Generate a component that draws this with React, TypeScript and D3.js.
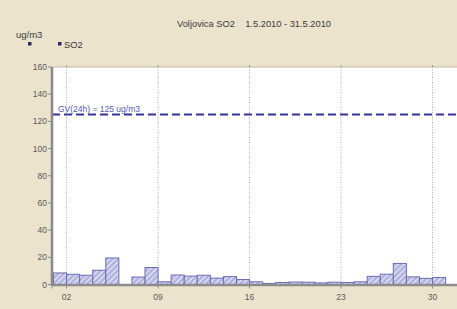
import * as d3 from 'd3';

// daily SO2 means, May 2010 (null = no data)
const days = d3.range(1, 32);
const so2: (number | null)[] = [
  8.5, 7.5, 6.8, 10.5, 19.5, null, 5.5, 12.5, 2, 7,
  6.2, 6.8, 4.7, 5.8, 3.7, 2, 0.8, 1.5, 1.8, 1.7,
  1.2, 1.7, 1.5, 2, 6, 7.6, 15.5, 5.6, 4.5, 5.2, null,
];
const yTicks = [0, 20, 40, 60, 80, 100, 120, 140, 160];
const xTickDays = [2, 9, 16, 23, 30];
const limitValue = 125;
const limitLabel = 'GV(24h) = 125 ug/m3';

const W = 457;
const H = 309;
const margin = { left: 52, top: 67, bottom: 24.5 };
const FONT = 'Arial, "Liberation Sans", sans-serif';

const App = () => {
  const x = d3.scaleLinear().domain([1, 32]).range([53.5, 53.5 + 31 * 13.07]);
  const y = d3.scaleLinear().domain([0, 160]).range([H - margin.bottom, margin.top]);
  const pad = (d: number) => d3.format('02d')(d);

  return (
    <svg width={W} height={H} style={{ position: 'absolute', left: 0, top: 0 }}>
      <defs>
        <pattern id="hatch" width="4" height="4" patternUnits="userSpaceOnUse" patternTransform="rotate(45)">
          <rect width="4" height="4" fill="#b4b4e0" />
          <line x1="0" y1="0" x2="0" y2="4" stroke="#ececf8" strokeWidth="2.2" />
        </pattern>
        <clipPath id="plot">
          <rect x={margin.left} y={margin.top} width={W - margin.left} height={y(0) - margin.top} />
        </clipPath>
      </defs>
      <rect width={W} height={H} fill="#ece3cd" />
      <rect x={margin.left} y={margin.top} width={W - margin.left} height={y(0) - margin.top} fill="#ffffff" />

      {/* title and legend */}
      <text x={254} y={27} textAnchor="middle" fontFamily={FONT} fontSize={9.3} fill="#3a3a3a">
        Voljovica SO2{'\u00a0\u00a0\u00a0\u00a0'}1.5.2010 - 31.5.2010
      </text>
      <text x={16} y={38} fontFamily={FONT} fontSize={9.5} fill="#3a3a3a">ug/m3</text>
      <rect x={28} y={42} width={3.5} height={3.5} fill="#2a2a6a" />
      <rect x={58} y={42} width={3.5} height={3.5} fill="#2a2a6a" />
      <text x={64} y={47.5} fontFamily={FONT} fontSize={9.3} fill="#3a3a3a">SO2</text>

      {/* vertical grid */}
      {xTickDays.map(d => (
        <line key={d} x1={x(d)} x2={x(d)} y1={margin.top} y2={y(0)}
          stroke="#a8a8b8" strokeWidth={1} strokeDasharray="1,1.5" />
      ))}

      {/* top border */}
      <line x1={margin.left} x2={W} y1={margin.top} y2={margin.top} stroke="#c0b8a8" strokeWidth={1} />
      {xTickDays.map(d => (
        <line key={'t' + d} x1={x(d)} x2={x(d)} y1={margin.top - 2} y2={margin.top} stroke="#a09888" />
      ))}

      {/* bars */}
      <g clipPath="url(#plot)">
        {days.map((d, i) => {
          const v = so2[i];
          if (v == null) return null;
          return (
            <rect key={d} x={x(d)} y={y(v)} width={x(d + 1) - x(d)} height={y(0) - y(v)}
              fill="url(#hatch)" stroke="#6c6cb4" strokeWidth={1} />
          );
        })}
      </g>

      {/* limit line */}
      <line x1={margin.left} x2={W} y1={y(limitValue)} y2={y(limitValue)}
        stroke="#34349a" strokeWidth={2} strokeDasharray="8,4" />
      <text x={58} y={y(limitValue) - 3} fontFamily={FONT} fontSize={8.5} fill="#5858b0">{limitLabel}</text>

      {/* axes */}
      <line x1={margin.left} x2={W} y1={y(0) + 0.5} y2={y(0) + 0.5} stroke="#8c8c8c" strokeWidth={2.5} />
      <line x1={margin.left} x2={margin.left} y1={margin.top} y2={y(0) + 1.5} stroke="#8c8c8c" strokeWidth={2.6} />
      {yTicks.map(t => (
        <g key={t}>
          <line x1={margin.left - 4} x2={margin.left} y1={y(t)} y2={y(t)} stroke="#8c8c8c" />
          <text x={margin.left - 5} y={y(t) + 3} textAnchor="end" fontFamily={FONT} fontSize={8.5} fill="#5a5a5a">{t}</text>
        </g>
      ))}
      {xTickDays.map(d => (
        <g key={'x' + d}>
          <line x1={x(d)} x2={x(d)} y1={y(0)} y2={y(0) + 4} stroke="#8c8c8c" />
          <text x={x(d)} y={y(0) + 15} textAnchor="middle" fontFamily={FONT} fontSize={8.5} fill="#5a5a5a">{pad(d)}</text>
        </g>
      ))}
      <line x1={margin.left} x2={margin.left} y1={y(0)} y2={y(0) + 4} stroke="#8c8c8c" />
    </svg>
  );
};

export default App;
